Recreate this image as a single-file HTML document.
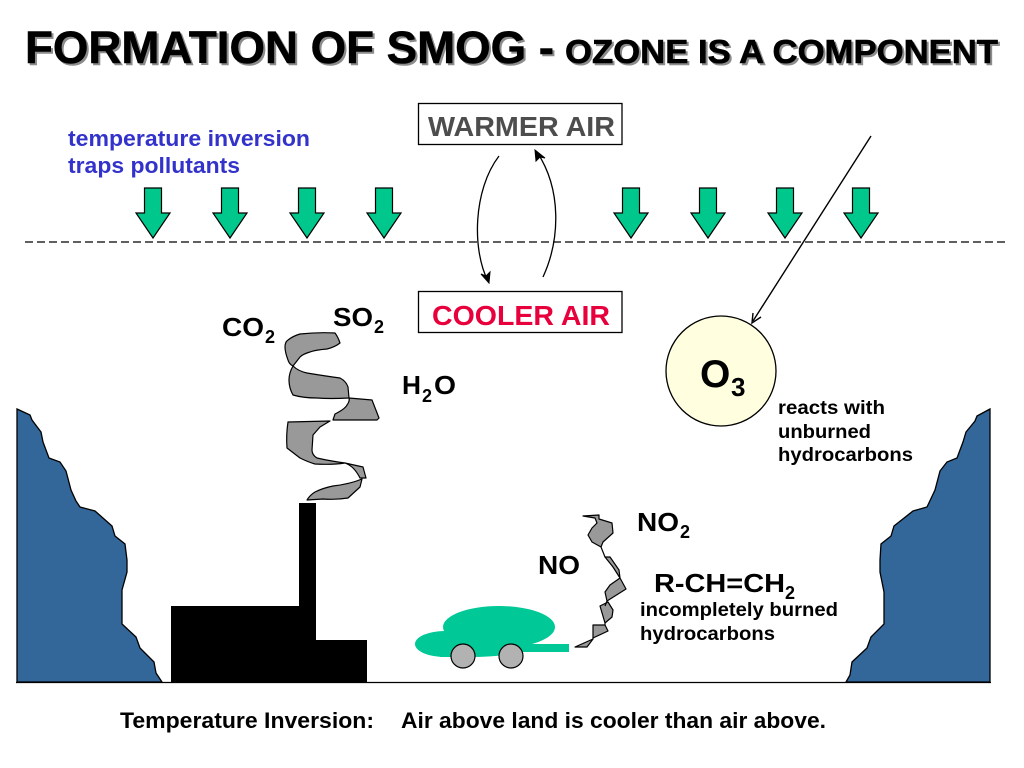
<!DOCTYPE html>
<html><head><meta charset="utf-8"><style>
html,body{margin:0;padding:0;background:#fff}
svg{display:block}
text{font-family:"Liberation Sans",Arial,sans-serif;font-weight:bold;fill:#000}
.sh{fill:#8c8c8c;stroke:#8c8c8c;stroke-width:.6}
.tt{fill:#000;stroke:#000;stroke-width:.6}
</style></head><body>
<svg width="1024" height="768" viewBox="0 0 1024 768" xmlns="http://www.w3.org/2000/svg">
<defs>
<g id="ar"><path d="M-8.5 -50H8.5V-25H17L0 0L-17 -25H-8.5Z" fill="#00c88c" stroke="#000" stroke-width="1.2" stroke-linejoin="miter"/></g>
</defs>
<rect width="1024" height="768" fill="#fff"/>
<!-- title -->
<text class="sh" x="27" y="65" font-size="45.5" textLength="529" lengthAdjust="spacingAndGlyphs">FORMATION OF SMOG -</text>
<text class="sh" x="567" y="65" font-size="33" textLength="433" lengthAdjust="spacingAndGlyphs">OZONE IS A COMPONENT</text>
<text class="tt" x="25" y="63" font-size="45.5" textLength="529" lengthAdjust="spacingAndGlyphs">FORMATION OF SMOG -</text>
<text class="tt" x="565" y="63" font-size="33" textLength="433" lengthAdjust="spacingAndGlyphs">OZONE IS A COMPONENT</text>

<text x="68" y="146" font-size="22.2" style="fill:#3333cc" textLength="242" lengthAdjust="spacingAndGlyphs">temperature inversion</text>
<text x="68" y="173" font-size="22.2" style="fill:#3333cc" textLength="172" lengthAdjust="spacingAndGlyphs">traps pollutants</text>

<use href="#ar" x="153" y="238"/><use href="#ar" x="230" y="238"/><use href="#ar" x="307" y="238"/><use href="#ar" x="384" y="238"/>
<use href="#ar" x="631" y="238"/><use href="#ar" x="708" y="238"/><use href="#ar" x="785" y="238"/><use href="#ar" x="861" y="238"/>

<line x1="25" y1="242" x2="1006" y2="242" stroke="#000" stroke-width="1.2" stroke-dasharray="8 4"/>

<rect x="418.5" y="103.5" width="203.5" height="41" fill="#fff" stroke="#000" stroke-width="1.3"/>
<text x="428" y="136" font-size="27.5" style="fill:#4d4d4d" textLength="187" lengthAdjust="spacingAndGlyphs">WARMER AIR</text>
<rect x="418.5" y="291.5" width="203.5" height="41" fill="#fff" stroke="#000" stroke-width="1.3"/>
<text x="432" y="325" font-size="27.5" style="fill:#e8003c" textLength="178" lengthAdjust="spacingAndGlyphs">COOLER AIR</text>

<!-- circulation arrows -->
<path d="M499 156C473 190 472 250 488 281" fill="none" stroke="#000" stroke-width="1.3"/>
<path d="M489 283L481 274L486 276L490 272Z" fill="#000" stroke="#000"/>
<path d="M543 277C560 240 562 190 537 152" fill="none" stroke="#000" stroke-width="1.3"/>
<path d="M535 150L545 158L540 157L536 161Z" fill="#000" stroke="#000"/>
<!-- sun arrow -->
<line x1="871" y1="136" x2="753" y2="321" stroke="#000" stroke-width="1.4"/>
<path d="M753 313L752 323L761 317" fill="none" stroke="#000" stroke-width="1.4"/>

<circle cx="721" cy="371" r="55" fill="#ffffe0" stroke="#000" stroke-width="1.3"/>
<text x="700" y="387" font-size="39">O</text>
<text x="731" y="396" font-size="26">3</text>
<text x="778" y="414" font-size="19.5" textLength="107" lengthAdjust="spacingAndGlyphs">reacts with</text>
<text x="778" y="438" font-size="19.5" textLength="93" lengthAdjust="spacingAndGlyphs">unburned</text>
<text x="778" y="461" font-size="19.5" textLength="135" lengthAdjust="spacingAndGlyphs">hydrocarbons</text>

<!-- gas labels -->
<text x="222" y="336" font-size="26" textLength="42" lengthAdjust="spacingAndGlyphs">CO</text><text x="265" y="343" font-size="18">2</text>
<text x="333" y="326" font-size="26" textLength="40" lengthAdjust="spacingAndGlyphs">SO</text><text x="374" y="333" font-size="18">2</text>
<text x="402" y="394" font-size="26" textLength="19" lengthAdjust="spacingAndGlyphs">H</text><text x="422" y="402" font-size="18">2</text><text x="434" y="394" font-size="26" textLength="22" lengthAdjust="spacingAndGlyphs">O</text>
<text x="637" y="531" font-size="26" textLength="42" lengthAdjust="spacingAndGlyphs">NO</text><text x="680" y="538" font-size="18">2</text>
<text x="538" y="574" font-size="26" textLength="42" lengthAdjust="spacingAndGlyphs">NO</text>
<text x="654" y="592" font-size="26" textLength="131" lengthAdjust="spacingAndGlyphs">R-CH=CH</text><text x="785" y="599" font-size="18">2</text>
<text x="640" y="616" font-size="19.5" textLength="198" lengthAdjust="spacingAndGlyphs">incompletely burned</text>
<text x="640" y="640" font-size="19.5" textLength="135" lengthAdjust="spacingAndGlyphs">hydrocarbons</text>

<!-- factory smoke -->
<g fill="#999" stroke="#000" stroke-width="1.2" stroke-linejoin="round">
<path d="M335 333Q338 337 340 343Q335 347 327 349Q315 350 310 352Q303 354 300 357L293 366Q289 364 288 360Q285 352 285 347Q285 342 288 340Q293 336 300 334Q318 332 335 333Z"/>
<path d="M293 366Q298 371 307 373Q325 376 340 378Q346 381 348 387L349 398Q330 399 317 398Q303 398 293 395Q289 388 289 380Q289 373 293 366Z"/>
<path d="M349 398L372 400L379 418L377 420L333 420L335 414Q345 409 347 405Q350 401 349 398Z"/>
<path d="M330 421L288 422Q286 435 287 448L300 458Q308 462 315 464Q332 465 345 463Q330 461 317 458Q312 455 312 450L313 435L320 427Z"/>
<path d="M345 463L363 467L366 478L360 478Q357 472 353 468Q350 465 345 463Z"/>
<path d="M362 479L360 487L348 498Q335 500 323 499L307 500Q310 495 315 492Q323 488 333 486Q350 484 362 479Z"/>
<!-- car smoke -->
<path d="M583 516L599 515L599 519L612 523L613 533L603 542L601 547L592 542L588 535L592 528L597 523L595 518Z"/>
<path d="M605 557L610 557L619 570L620 578L613 567Z"/>
<path d="M620 578L626 589L607 601L605 592L610 585Z"/>
<path d="M600 606L608 602L613 610L612 617L605 623Z"/>
<path d="M593 625L605 625L608 631L593 638Z"/>
<path d="M593 639L587 647L575 647Z"/>
</g>
<path d="M601 547L605 557M607 601L605 606M605 623L605 625M593 638L593 639" stroke="#000" stroke-width="1.2" fill="none"/>

<!-- mountains -->
<path d="M17 409L30 415L32 420L41 432L43 442L49 458L60 462L66 471L71 490L76 501L80 507L95 511L112 526L115 536L125 544L127 560L127 572L122 590L122 624L136 637L140 648L154 662L156 673L162 682L17 682Z" fill="#336699" stroke="#000" stroke-width="1.3"/>
<path d="M990 409L977 416L975 421L966 432L963 442L957 458L947 462L940 471L935 490L927 507L913 511L894 526L891 536L881 544L880 560L880 572L884 592L884 624L871 637L867 648L852 662L850 675L846 682L990 682Z" fill="#336699" stroke="#000" stroke-width="1.3"/>
<line x1="16" y1="682.5" x2="991" y2="682.5" stroke="#000" stroke-width="1.3"/>

<!-- factory -->
<rect x="171" y="606" width="128" height="77" fill="#000"/>
<rect x="299" y="503" width="17" height="180" fill="#000"/>
<rect x="316" y="640" width="51" height="43" fill="#000"/>

<!-- car -->
<g fill="#00c896">
<ellipse cx="499" cy="627" rx="56" ry="21"/>
<ellipse cx="445" cy="644" rx="30" ry="13"/>
<path d="M440 644H569V652H523Q500 657 470 657H440Z"/>
</g>
<circle cx="463" cy="656" r="12" fill="#b2b2b2" stroke="#000" stroke-width="1.2"/>
<circle cx="511" cy="656" r="12" fill="#b2b2b2" stroke="#000" stroke-width="1.2"/>

<text x="120" y="728" font-size="22" textLength="254" lengthAdjust="spacingAndGlyphs">Temperature Inversion:</text>
<text x="401" y="728" font-size="22" textLength="425" lengthAdjust="spacingAndGlyphs">Air above land is cooler than air above.</text>
</svg>
</body></html>
